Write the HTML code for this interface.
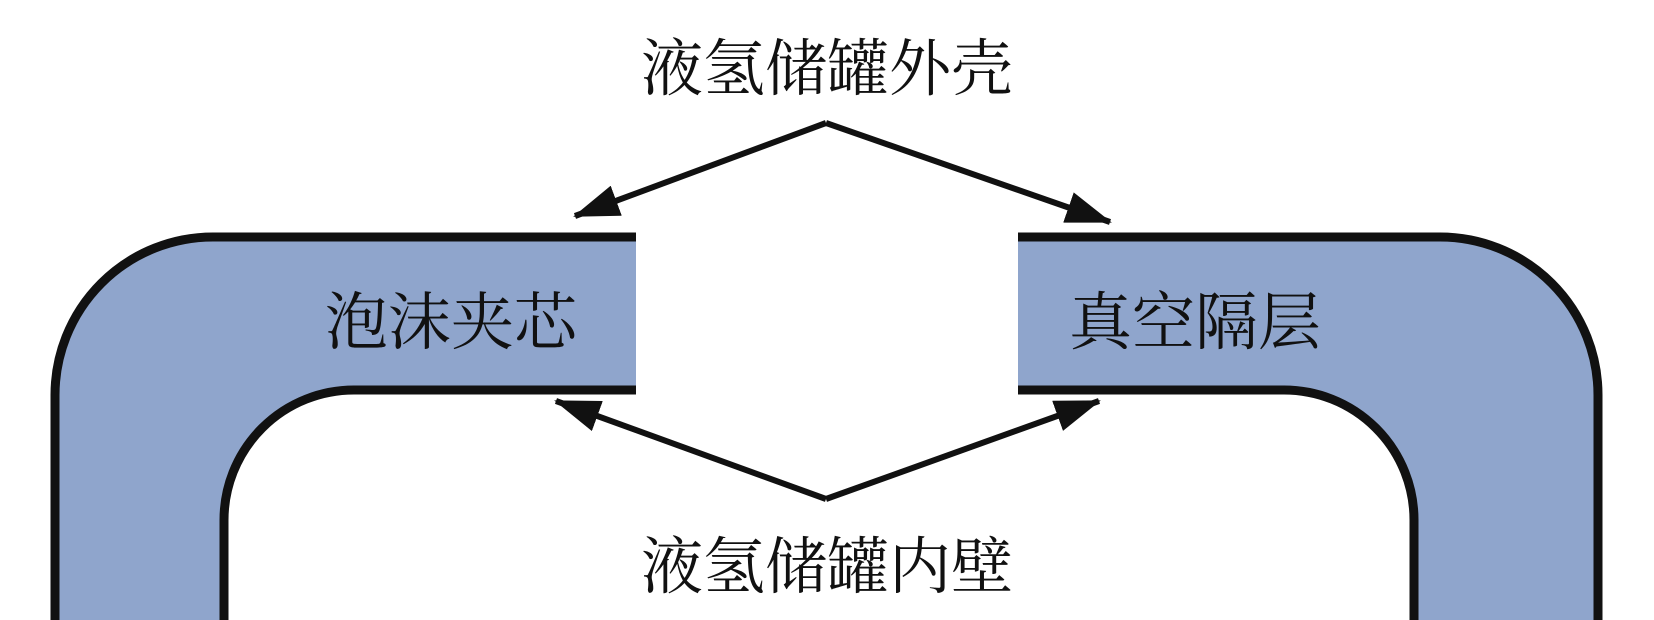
<!DOCTYPE html>
<html><head><meta charset="utf-8"><style>
html,body{margin:0;padding:0;background:#fff;width:1654px;height:620px;overflow:hidden}
svg{display:block;overflow:hidden}
text{font-family:"Liberation Serif","Noto Serif CJK SC",serif;fill:#111}
</style></head><body>
<svg width="1654" height="620" viewBox="0 0 1654 620" xmlns="http://www.w3.org/2000/svg">
<defs>
<marker id="ah" viewBox="0 0 46 32" refX="44" refY="16" markerWidth="46" markerHeight="32" markerUnits="userSpaceOnUse" orient="auto">
<path d="M0,0 L46,16 L0,32 Z" fill="#111"/>
</marker>
</defs>
<path d="M55,620 V395 A158,158 0 0 1 213,237 H1440 A158,158 0 0 1 1598,395 V620 Z" fill="#8fa5cc"/>
<path d="M224,620 V520 A130,130 0 0 1 354,390 H1284 A130,130 0 0 1 1414,520 V620 Z" fill="#fff"/>
<rect x="636" y="225" width="382" height="175" fill="#fff"/>
<g stroke="#111" stroke-width="9" fill="none">
<path d="M55,620 V395 A158,158 0 0 1 213,237 H636"/>
<path d="M1018,237 H1440 A158,158 0 0 1 1598,395 V620"/>
<path d="M224,620 V520 A130,130 0 0 1 354,390 H636"/>
<path d="M1018,390 H1284 A130,130 0 0 1 1414,520 V620"/>
</g>
<text x="451" y="344" font-size="63" text-anchor="middle">泡沫夹芯</text>
<text x="1195" y="344" font-size="63" text-anchor="middle">真空隔层</text>
<text x="827" y="90" font-size="62" text-anchor="middle">液氢储罐外壳</text>
<text x="827" y="588" font-size="62" text-anchor="middle">液氢储罐内壁</text>
<g stroke="#111" stroke-width="6" fill="none">
<path d="M826,123 L575,216" marker-end="url(#ah)"/>
<path d="M826,123 L1110,222" marker-end="url(#ah)"/>
<path d="M826,499 L556,401" marker-end="url(#ah)"/>
<path d="M826,499 L1099,401" marker-end="url(#ah)"/>
</g>
</svg>
</body></html>
